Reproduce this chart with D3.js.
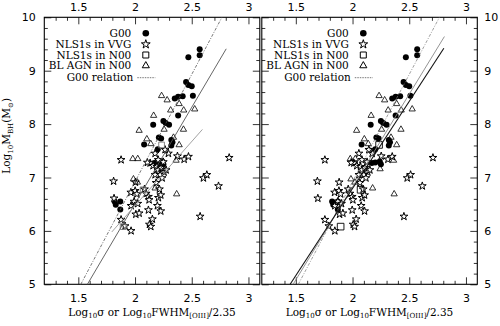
<!DOCTYPE html>
<html>
<head>
<meta charset="utf-8">
<script src="https://cdn.jsdelivr.net/npm/d3@7"></script>
<style>
  body { margin: 0; background: #fff; }
  text { fill: #000; }
</style>
</head>
<body>
<svg id="chart" width="500" height="326"></svg>
<script>
// --- data -----------------------------------------------------------------
// G00 galaxies (filled circles), same in both panels
const g00X = [2.57, 2.57, 2.47, 2.45, 2.47, 2.50, 2.51, 2.42, 2.38, 2.35, 2.38, 2.25, 2.27, 2.30, 2.16,
              2.21, 2.23, 2.08, 2.32, 2.33, 2.32, 2.20, 2.17, 2.20, 2.24, 2.25, 1.82, 1.87, 1.83, 1.87];
const g00Y = [9.40, 9.29, 9.25, 8.79, 8.73, 8.71, 8.53, 8.52, 8.51, 8.48, 8.16, 8.06, 8.02, 7.99, 7.99,
              7.75, 7.73, 7.62, 7.70, 7.66, 7.60, 7.53, 7.27, 7.28, 7.30, 7.25, 6.55, 6.55, 6.49, 6.40];

// NLS1s in VVG (stars): sigma in the left panel, FWHM[OIII]/2.35 in the right
const vvgXLeft = [1.877, 1.811, 1.815, 1.877, 1.912, 1.965, 1.965, 1.963, 2.001, 2.016, 2.007, 2.036, 2.083,
                  2.098, 2.118, 2.124, 2.118, 2.153, 2.127, 2.139, 2.197, 2.227, 2.215, 2.206, 2.227, 2.186,
                  2.133, 2.109, 2.159, 2.192, 2.204, 2.230, 2.256, 2.221, 2.274, 2.177, 2.239, 2.294, 2.374,
                  2.433, 2.471, 2.830, 2.603, 2.633, 2.736, 2.574, 1.992, 2.024, 2.177, 2.265, 2.204, 2.249, 2.003];
const vvgXRight = [1.756, 1.690, 1.694, 1.756, 1.791, 1.844, 1.844, 1.842, 1.880, 1.895, 1.886, 1.915, 1.962,
                   1.977, 1.997, 2.003, 1.997, 2.032, 2.006, 2.018, 2.076, 2.106, 2.094, 2.085, 2.106, 2.065,
                   2.012, 1.988, 2.038, 2.071, 2.083, 2.109, 2.135, 2.100, 2.153, 2.056, 2.118, 2.173, 2.253,
                   2.312, 2.350, 2.709, 2.482, 2.512, 2.615, 2.453, 1.871, 1.903, 2.056, 2.144, 2.083, 2.128, 1.882];
const vvgY = [7.33, 6.93, 6.61, 6.21, 6.09, 6.00, 6.47, 6.72, 6.75, 6.69, 6.31, 6.33, 6.78,
              6.70, 6.64, 6.58, 6.39, 6.22, 6.12, 6.08, 6.47, 6.37, 6.78, 6.62, 6.67, 6.90,
              7.27, 7.28, 7.22, 7.20, 7.14, 7.18, 7.10, 7.05, 7.14, 7.05, 6.99, 7.45, 7.40,
              7.34, 7.39, 7.37, 6.99, 7.05, 6.84, 6.27, 6.55, 6.51, 7.45, 7.52, 7.33, 7.29, 6.91];

// NLS1s in N00 (squares)
const n00NlsX = [2.234, 2.071, 1.895];
const n00NlsY = [7.61, 6.77, 6.08];

// BL AGN in N00 (triangles)
const n00BlX = [2.234, 2.283, 2.389, 2.526, 2.314, 2.429, 2.164, 2.256, 2.427, 2.036, 2.104,
                2.139, 2.339, 2.389, 1.980, 2.024, 2.362, 1.986, 2.021, 2.177, 2.367, 2.243];
const n00BlY = [8.53, 8.45, 8.38, 8.28, 8.26, 8.26, 8.16, 7.90, 7.90, 7.88, 7.72,
                7.63, 7.75, 7.61, 7.35, 7.35, 7.32, 6.97, 6.91, 6.80, 6.69, 7.16];

// relations, end points
const g00Relation = [[1.522, 5], [2.766, 10]];
const fitLeftAll = [[1.58, 5], [2.804, 9.41]];
const fitLeftNls = [[1.795, 5.98], [2.594, 7.90]];
const fitRightSolid = [[1.45, 5], [2.805, 9.42]];
const fitRightDash = [[1.476, 5], [2.81, 9.64]];

const xMajor = [1.5, 2, 2.5, 3];
const yMajor = [5, 6, 7, 8, 9, 10];
const legendLabels = ['G00', 'NLS1s in VVG', 'NLS1s in N00', 'BL AGN in N00', 'G00 relation'];

// --- layout -----------------------------------------------------------------
const svg = d3.select('#chart');
const topY = 17.3, H = 267, W = 215.5;
const serif = '"DejaVu Serif", serif';
const sans = '"DejaVu Sans", sans-serif';

const x = d3.scaleLinear().domain([1.2, 3.1]).range([0, W]);
const y = d3.scaleLinear().domain([5, 10]).range([H, 0]);
const xMinor = d3.range(13, 31).map(d => d / 10).filter(d => !xMajor.includes(d));
const yMinor = d3.range(26, 50).map(d => d / 5).filter(d => !yMajor.includes(d));

const panels = [
  {x0: 44.3, starX: vvgXLeft, yLabels: 'left', sqColor: '#777', sqSize: 32,
   lines: [
     {pts: g00Relation, stroke: '#555', width: 0.8, dash: '3,1.5,1,1.5'},
     {pts: fitLeftAll, stroke: '#555', width: 0.9},
     {pts: fitLeftNls, stroke: '#999', width: 0.9}]},
  {x0: 261.8, starX: vvgXRight, yLabels: 'right', sqColor: '#000', sqSize: 44,
   lines: [
     {pts: g00Relation, stroke: '#777', width: 0.7, dash: '3,1.5,1,1.5'},
     {pts: fitRightDash, stroke: '#888', width: 0.9},
     {pts: fitRightSolid, stroke: '#111', width: 1.1}]}
];

const star = d3.symbol().type(d3.symbolStar).size(19);
const tri = d3.symbol().type(d3.symbolTriangle).size(17);

function axisSet(g, axisFn, ticks, size, labels, pad, transform) {
  const scale = (ticks === xMajor || ticks === xMinor) ? x : y;
  const a = axisFn(scale)
    .tickValues(ticks).tickSize(-size).tickSizeOuter(0).tickPadding(pad)
    .tickFormat(labels ? d3.format('') : '');
  const ag = g.append('g').attr('transform', transform).call(a);
  ag.select('.domain').remove();
  ag.selectAll('line').attr('stroke', '#000').attr('stroke-width', 0.8);
  ag.selectAll('text').attr('font-family', sans).attr('font-size', 11).attr('fill', '#000');
  return ag;
}

panels.forEach(p => {
  const g = svg.append('g').attr('transform', `translate(${p.x0},${topY})`);

  // ticks on all four sides, pointing inward
  axisSet(g, d3.axisBottom, xMajor, 7, true, 10, `translate(0,${H})`);
  axisSet(g, d3.axisBottom, xMinor, 3.5, false, 0, `translate(0,${H})`);
  axisSet(g, d3.axisTop, xMajor, 7, true, 6.5, 'translate(0,0)');
  axisSet(g, d3.axisTop, xMinor, 3.5, false, 0, 'translate(0,0)');
  axisSet(g, d3.axisLeft, yMajor, 7, p.yLabels === 'left', 8.5, 'translate(0,0)');
  axisSet(g, d3.axisLeft, yMinor, 3.5, false, 0, 'translate(0,0)');
  axisSet(g, d3.axisRight, yMajor, 7, p.yLabels === 'right', 7, `translate(${W},0)`);
  axisSet(g, d3.axisRight, yMinor, 3.5, false, 0, `translate(${W},0)`);

  g.append('rect').attr('width', W).attr('height', H)
    .attr('fill', 'none').attr('stroke', '#000').attr('stroke-width', 1.1);

  // points
  g.selectAll('.g00').data(g00X).join('circle').attr('class', 'g00')
    .attr('cx', d => x(d)).attr('cy', (d, i) => y(g00Y[i])).attr('r', 3).attr('fill', '#000');
  g.selectAll('.vvg').data(p.starX).join('path').attr('class', 'vvg')
    .attr('d', star).attr('transform', (d, i) => `translate(${x(d)},${y(vvgY[i])})`)
    .attr('fill', '#fff').attr('stroke', '#000').attr('stroke-width', 1);
  g.selectAll('.bl').data(n00BlX).join('path').attr('class', 'bl')
    .attr('d', tri).attr('transform', (d, i) => `translate(${x(d)},${y(n00BlY[i])})`)
    .attr('fill', 'none').attr('stroke', '#000').attr('stroke-width', 0.8);
  g.selectAll('.nls').data(n00NlsX).join('path').attr('class', 'nls')
    .attr('d', d3.symbol().type(d3.symbolSquare).size(p.sqSize))
    .attr('transform', (d, i) => `translate(${x(d)},${y(n00NlsY[i])})`)
    .attr('fill', 'none').attr('stroke', p.sqColor).attr('stroke-width', 0.9);

  // relations
  p.lines.forEach(l => {
    g.append('line')
      .attr('x1', x(l.pts[0][0])).attr('y1', y(l.pts[0][1]))
      .attr('x2', x(l.pts[1][0])).attr('y2', y(l.pts[1][1]))
      .attr('stroke', l.stroke).attr('stroke-width', l.width)
      .attr('stroke-dasharray', l.dash || null);
  });

  // legend
  const lg = g.append('g');
  const rows = [16, 27, 37.7, 48.4, 60.4];
  legendLabels.forEach((t, i) => {
    lg.append('text').attr('x', i === 4 ? 89 : 87).attr('y', rows[i] + 3.6)
      .attr('text-anchor', 'end').attr('font-family', serif).attr('font-size', 10.5).text(t);
  });
  lg.append('circle').attr('cx', 101.5).attr('cy', rows[0]).attr('r', 3.3).attr('fill', '#000');
  lg.append('path').attr('d', d3.symbol().type(d3.symbolStar).size(24))
    .attr('transform', `translate(101.5,${rows[1]})`).attr('fill', 'none').attr('stroke', '#000');
  lg.append('path').attr('d', d3.symbol().type(d3.symbolSquare).size(36))
    .attr('transform', `translate(101.5,${rows[2]})`).attr('fill', 'none').attr('stroke', '#000');
  lg.append('path').attr('d', d3.symbol().type(d3.symbolTriangle).size(22))
    .attr('transform', `translate(101.5,${rows[3]})`).attr('fill', 'none').attr('stroke', '#000');
  lg.append('line').attr('x1', 93).attr('x2', 111).attr('y1', rows[4]).attr('y2', rows[4])
    .attr('stroke', '#555').attr('stroke-width', 0.8).attr('stroke-dasharray', '1.5,1');

  // x title
  const xt = g.append('text').attr('x', W / 2).attr('y', 316 - topY).attr('text-anchor', 'middle')
    .attr('font-family', serif).attr('font-size', 10.5);
  xt.append('tspan').text('Log');
  xt.append('tspan').attr('dy', 2.5).attr('font-size', 7).text('10');
  xt.append('tspan').attr('dy', -2.5).text('σ or Log');
  xt.append('tspan').attr('dy', 2.5).attr('font-size', 7).text('10');
  xt.append('tspan').attr('dy', -2.5).text('FWHM');
  xt.append('tspan').attr('dy', 2.5).attr('font-size', 7).text('[OIII]');
  xt.append('tspan').attr('dy', -2.5).text('/2.35');
});

// y title
const yt = svg.append('text').attr('transform', 'translate(10,98) rotate(-90)')
  .attr('text-anchor', 'end').attr('font-family', serif).attr('font-size', 10.5);
yt.append('tspan').text('Log');
yt.append('tspan').attr('dy', 2.5).attr('font-size', 7).text('10');
yt.append('tspan').attr('dy', -2.5).text('M');
yt.append('tspan').attr('dy', 2.5).attr('font-size', 7).text('BH');
yt.append('tspan').attr('dy', -2.5).text('(M');
yt.append('tspan').attr('dy', 2.5).attr('font-size', 7).text('⊙');
yt.append('tspan').attr('dy', -2.5).text(')');
</script>
</body>
</html>
